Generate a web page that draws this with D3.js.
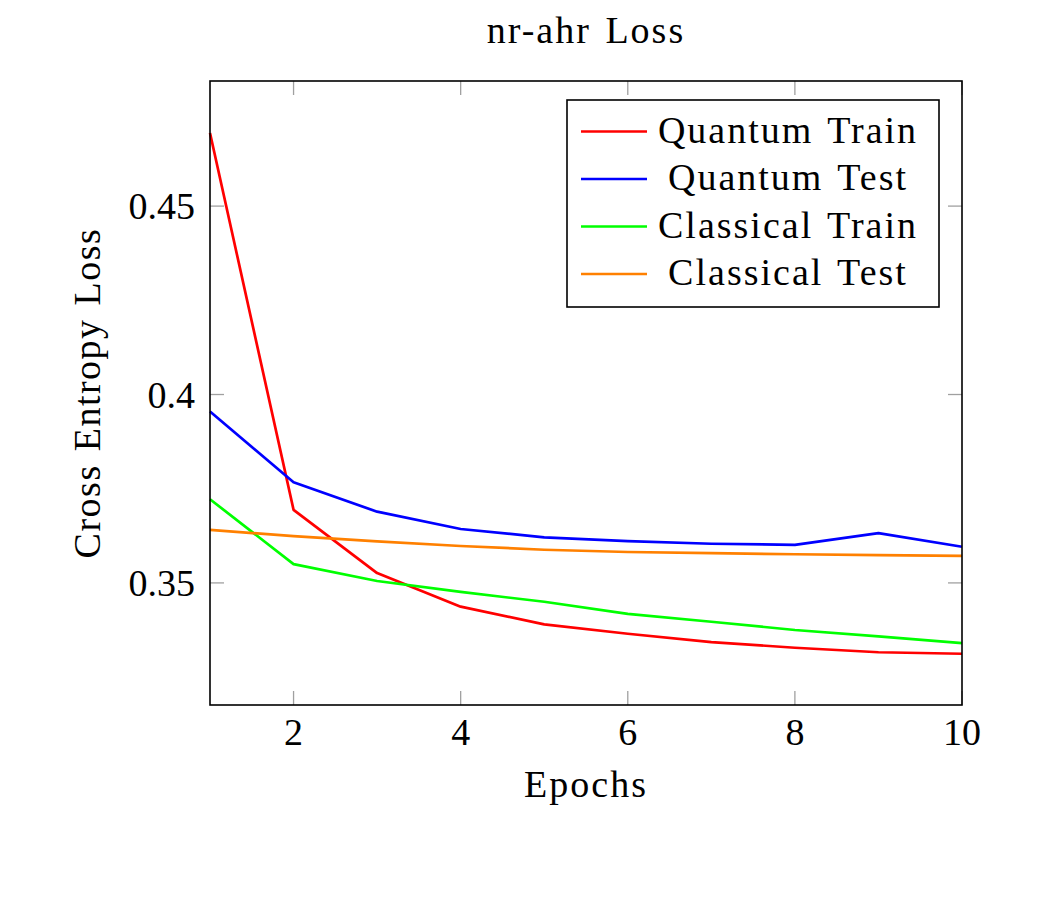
<!DOCTYPE html>
<html>
<head>
<meta charset="utf-8">
<script src="https://cdn.jsdelivr.net/npm/d3@7"></script>
<style>
  body { margin: 0; background: #fff; }
  text { font-family: "Liberation Serif", "DejaVu Serif", serif; fill: #000; }
  .words { letter-spacing: 2px; word-spacing: 3px; }
  .ylabel { letter-spacing: 1.5px; word-spacing: 2px; }
</style>
</head>
<body>
<script>
const width = 1049;
const height = 919;

// data
const epochs = [1, 2, 3, 4, 5, 6, 7, 8, 9, 10];
const quantumTrain = [0.4694, 0.3694, 0.3526, 0.3437, 0.3390, 0.3365, 0.3343, 0.3328, 0.3316, 0.3312];
const quantumTest = [0.3955, 0.3767, 0.3689, 0.3643, 0.3621, 0.3611, 0.3604, 0.3601, 0.3632, 0.3596];
const classicalTrain = [0.3722, 0.3550, 0.3505, 0.3476, 0.3450, 0.3418, 0.3397, 0.3375, 0.3358, 0.3340];
const classicalTest = [0.3641, 0.3624, 0.3610, 0.3598, 0.3588, 0.3582, 0.3579, 0.3576, 0.3574, 0.3572];
const seriesNames = ['Quantum Train', 'Quantum Test', 'Classical Train', 'Classical Test'];
const seriesColors = ['#ff0000', '#0000ff', '#00ff00', '#ff8000'];
const xTicks = [2, 4, 6, 8, 10];
const yTicks = [0.35, 0.4, 0.45];

const series = [quantumTrain, quantumTest, classicalTrain, classicalTest];

const plotLeft = 210, plotRight = 962, plotTop = 81, plotBottom = 705;
const fontSize = 38;

const svg = d3.select('body').append('svg')
    .attr('width', width)
    .attr('height', height);

const x = d3.scaleLinear().domain([1, 10]).range([plotLeft, plotRight]);
const y = d3.scaleLinear().domain([0.3176, 0.4832]).range([plotBottom, plotTop]);

// lines
const line = d3.line()
    .x((d, i) => x(epochs[i]))
    .y(d => y(d));

svg.selectAll('path.series')
    .data(series)
    .enter()
    .append('path')
    .attr('class', 'series')
    .attr('d', line)
    .attr('fill', 'none')
    .attr('stroke', (d, i) => seriesColors[i])
    .attr('stroke-width', 2.7)
    .attr('stroke-linejoin', 'round');

// ticks, inward on all four sides (pgfplots style)
const tickLen = 14;
const tickColor = '#a0a0a0';
xTicks.forEach(t => {
    svg.append('line').attr('x1', x(t)).attr('x2', x(t)).attr('y1', plotBottom).attr('y2', plotBottom - tickLen)
        .attr('stroke', tickColor).attr('stroke-width', 1.3);
    svg.append('line').attr('x1', x(t)).attr('x2', x(t)).attr('y1', plotTop).attr('y2', plotTop + tickLen)
        .attr('stroke', tickColor).attr('stroke-width', 1.3);
    svg.append('text').attr('x', x(t)).attr('y', plotBottom + 40)
        .attr('text-anchor', 'middle').attr('font-size', fontSize).text(t);
});
yTicks.forEach(t => {
    svg.append('line').attr('x1', plotLeft).attr('x2', plotLeft + tickLen).attr('y1', y(t)).attr('y2', y(t))
        .attr('stroke', tickColor).attr('stroke-width', 1.3);
    svg.append('line').attr('x1', plotRight).attr('x2', plotRight - tickLen).attr('y1', y(t)).attr('y2', y(t))
        .attr('stroke', tickColor).attr('stroke-width', 1.3);
    svg.append('text').attr('x', plotLeft - 15).attr('y', y(t) + 13)
        .attr('text-anchor', 'end').attr('font-size', fontSize).text(d3.format('')(t));
});

// frame
svg.append('rect')
    .attr('x', plotLeft).attr('y', plotTop)
    .attr('width', plotRight - plotLeft).attr('height', plotBottom - plotTop)
    .attr('fill', 'none').attr('stroke', '#000').attr('stroke-width', 1.6);

// title and axis labels
svg.append('text').attr('class', 'words').attr('x', (plotLeft + plotRight) / 2).attr('y', 43)
    .attr('text-anchor', 'middle').attr('font-size', fontSize).text('nr-ahr Loss');
svg.append('text').attr('class', 'words').attr('x', (plotLeft + plotRight) / 2).attr('y', 797)
    .attr('text-anchor', 'middle').attr('font-size', fontSize).text('Epochs');
svg.append('text').attr('class', 'ylabel')
    .attr('transform', `translate(100,${(plotTop + plotBottom) / 2}) rotate(-90)`)
    .attr('text-anchor', 'middle').attr('font-size', fontSize).text('Cross Entropy Loss');

// legend
const legend = svg.append('g').attr('transform', 'translate(567,100)');
legend.append('rect')
    .attr('width', 372).attr('height', 207)
    .attr('fill', '#fff').attr('stroke', '#000').attr('stroke-width', 1.6);
seriesNames.forEach((name, i) => {
    const ly = 31.5 + i * 47.5;
    legend.append('line').attr('x1', 14).attr('x2', 80).attr('y1', ly).attr('y2', ly)
        .attr('stroke', seriesColors[i]).attr('stroke-width', 2.7);
    legend.append('text').attr('class', 'words').attr('x', 221).attr('y', ly + 11)
        .attr('text-anchor', 'middle').attr('font-size', fontSize).text(name);
});
</script>
</body>
</html>
